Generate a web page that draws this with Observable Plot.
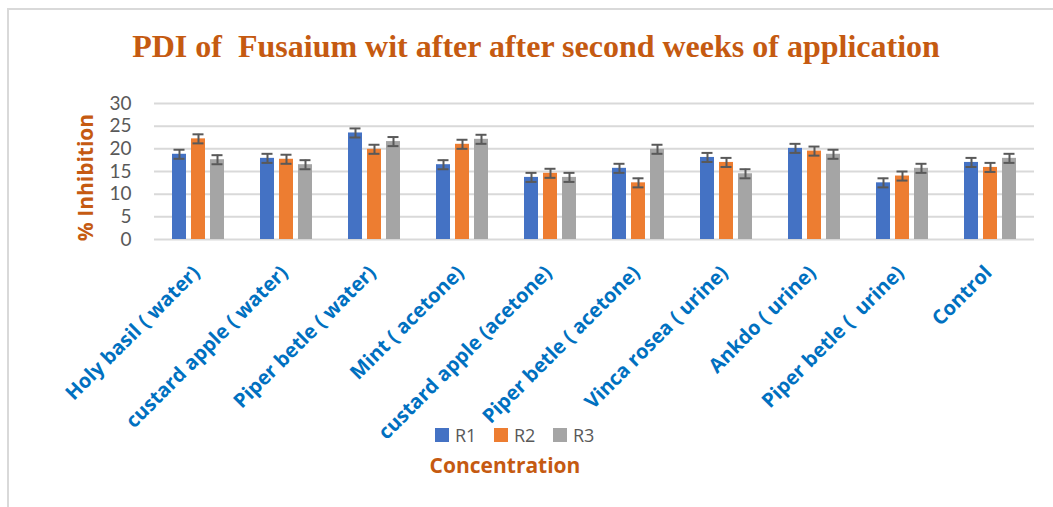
<!DOCTYPE html>
<html><head><meta charset="utf-8">
<script src="https://cdn.jsdelivr.net/npm/d3@7"></script>
<script src="https://cdn.jsdelivr.net/npm/@observablehq/plot@0.6"></script>
<style>
body{margin:0;background:#fff;}
#wrap{position:relative;width:1053px;height:507px;overflow:hidden;font-family:"Open Sans",sans-serif;background:#fff;}
#frame{position:absolute;left:7px;top:8px;width:1100px;height:600px;border-top:2px solid #d9d9d9;border-left:2px solid #d9d9d9;box-sizing:border-box;}
#title{position:absolute;left:0;top:0;width:1053px;height:90px;}
#title span{position:absolute;left:536px;top:30px;transform:translateX(-50%);white-space:pre;font-family:"Liberation Serif",serif;font-weight:bold;font-size:32px;color:#C55A11;line-height:1;}
#chart{position:absolute;left:0;top:90px;}
#legend{position:absolute;left:0;top:423px;width:1053px;height:24px;}
.item{position:absolute;top:0;height:24px;display:flex;align-items:center;font-size:18px;color:#595959;}
.sw{width:14px;height:14px;margin-right:6px;}
#xtitle{position:absolute;left:505px;top:453px;transform:translateX(-50%);font-weight:bold;font-size:21px;color:#C55A11;line-height:1.2;}
</style></head>
<body>
<div id="wrap">
  <div id="frame"></div>
  <div id="title"><span>PDI of  Fusaium wit after after second weeks of application</span></div>
  <div id="chart"></div>
  <div id="legend"></div>
  <div id="xtitle">Concentration</div>
</div>
<script>
const categories = ["Holy basil ( water)", "custard apple ( water)", "Piper betle ( water)", "Mint ( acetone)", "custard apple (acetone)", "Piper betle ( acetone)", "Vinca rosea ( urine)", "Ankdo ( urine)", "Piper betle (  urine)", "Control"];
const series = ["R1", "R2", "R3"];
const colors = ["#4472C4", "#ED7D31", "#A5A5A5"];
const R1 = [18.8, 17.9, 23.5, 16.5, 13.7, 15.7, 18.1, 20.1, 12.5, 17.0];
const R2 = [22.2, 17.7, 19.9, 21.0, 14.6, 12.5, 17.0, 19.5, 14.0, 15.9];
const R3 = [17.6, 16.5, 21.6, 22.1, 13.7, 19.9, 14.5, 18.8, 15.7, 17.9];
const errR1 = [1, 1, 1, 1, 1, 1, 1, 1, 1, 1];
const errR2 = [1, 1, 1, 1, 1, 1, 1, 1, 1, 1];
const errR3 = [1, 1, 1, 1, 1, 1, 1, 1, 1, 1];
const yTicks = [0, 5, 10, 15, 20, 25, 30];
const yTitle = "% Inhibition";
const xTitle = "Concentration";

const values = [R1, R2, R3];
const errs = [errR1, errR2, errR3];
const data = [];
categories.forEach((c, i) => series.forEach((s, j) => data.push({category: c, series: s, value: values[j][i], err: errs[j][i]})));

const chart = Plot.plot({
  width: 1053, height: 340,
  marginTop: 13, marginLeft: 153, marginRight: 18, marginBottom: 191,
  style: {background: "transparent", overflow: "visible"},
  fx: {domain: categories, padding: 0, label: null},
  x: {domain: series, paddingInner: 0.24, paddingOuter: 0.86, axis: null},
  y: {domain: [0, 30], label: null},
  color: {domain: series, range: colors},
  marks: [
    Plot.gridY(yTicks, {stroke: "#d9d9d9", strokeOpacity: 1, strokeWidth: 2}),
    Plot.axisY(yTicks, {tickSize: 0, tickPadding: 23, fontSize: 19, fill: "#595959", label: null, fontFamily: "Lato"}),
    Plot.axisFx({anchor: "bottom", tickRotate: -45, tickSize: 0, tickPadding: 30, dx: -2, fontSize: 20, fontWeight: "bold", fill: "#0070C0", label: null, fontFamily: "Open Sans"}),
    Plot.barY(data, {fx: "category", x: "series", y: "value", fill: "series"}),
    Plot.ruleX(data, {fx: "category", x: "series", y1: d => d.value - d.err, y2: d => d.value + d.err, stroke: "#595959", strokeWidth: 2}),
    Plot.tickY(data, {fx: "category", x: "series", y: d => d.value - d.err, stroke: "#595959", strokeWidth: 2, inset: 1.5}),
    Plot.tickY(data, {fx: "category", x: "series", y: d => d.value + d.err, stroke: "#595959", strokeWidth: 2, inset: 1.5}),
    Plot.text([yTitle], {facetAnchor: "left", frameAnchor: "left", textAnchor: "middle", rotate: -90, dx: -68, dy: 6, fontSize: 21, fontWeight: "bold", fill: "#C55A11", fontFamily: "Open Sans"})
  ]
});
document.getElementById("chart").appendChild(chart);

const leg = document.getElementById("legend");
const lx = [435, 494, 553];
series.forEach((s, j) => {
  const it = document.createElement("div");
  it.className = "item";
  it.style.left = lx[j] + "px";
  it.innerHTML = `<div class="sw" style="background:${colors[j]}"></div><span>${s}</span>`;
  leg.appendChild(it);
});
document.getElementById("xtitle").textContent = xTitle;
</script>
</body></html>
